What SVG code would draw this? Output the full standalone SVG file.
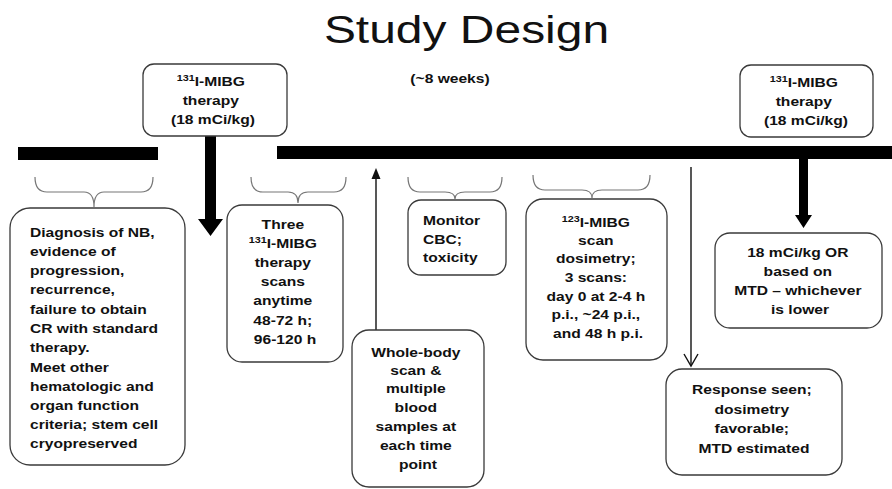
<svg xmlns="http://www.w3.org/2000/svg" width="892" height="489" viewBox="0 0 892 489">
<style>
.t{font-family:"Liberation Sans",Arial,Helvetica,sans-serif;font-size:13px;font-weight:bold;fill:#111}
.c{text-anchor:middle}
.box{fill:#fff;stroke:#3a3a3a;stroke-width:1.3}
.brace{fill:none;stroke:#777;stroke-width:1.2}
.thin{stroke:#111;stroke-width:1.4;fill:none}
.sup{font-size:9px}
</style>
<rect width="892" height="489" fill="#fff"/>
<text class="t" style="font-weight:normal;font-size:39px" transform="matrix(1.23 0 0 1 466.5 0)" x="0" y="43" text-anchor="middle">Study Design</text>
<text class="t c" transform="matrix(1.2 0 0 1 450 0)" x="0" y="83">(~8 weeks)</text>

<g id="timeline">
<rect x="18" y="147" width="140" height="13" fill="#000"/>
<rect x="277" y="146" width="615" height="13" fill="#000"/>
</g>

<g id="braces">
<path class="brace" d="M35,177 Q35,192 47,192 L84,192 Q94,192 94,207 Q94,192 104,192 L141,192 Q153,192 153,177"/>
<path class="brace" d="M251,177 Q251,192 263,192 L288,192 Q298,192 298,203 Q298,192 308,192 L334,192 Q346,192 346,177"/>
<path class="brace" d="M408,177 Q408,192 420,192 L445,192 Q455,192 455,199 Q455,192 465,192 L490,192 Q502,192 502,177"/>
<path class="brace" d="M533,175 Q533,190 545,190 L582,190 Q592,190 592,198 Q592,190 602,190 L638,190 Q650,190 650,175"/>
</g>

<g id="connectors">
<path d="M205,136 H216 V219 H223 L210.5,236 L198,219 H205 Z" fill="#000"/>
<path d="M799,159 H808 V215 H812 L803.5,228 L795,215 H799 Z" fill="#000"/>
<line class="thin" x1="376" y1="330" x2="376" y2="176"/>
<path d="M376,168 L380.5,179 L371.5,179 Z" fill="#111"/>
<line class="thin" x1="691" y1="167" x2="691" y2="365"/>
<polyline class="thin" points="684,354 691,366 698,354"/>
</g>

<g id="therapy1">
<rect class="box" x="143" y="64" width="144" height="72" rx="11"/>
<text class="t c" transform="matrix(1.2 0 0 1 213 0)">
<tspan x="0" y="86"><tspan class="sup" dy="-5">131</tspan><tspan dy="5">I-MIBG</tspan></tspan>
<tspan x="0" y="105">therapy</tspan>
<tspan x="0" y="124">(18 mCi/kg)</tspan>
</text>
</g>

<g id="therapy2">
<rect class="box" x="740" y="65" width="133" height="72" rx="11"/>
<text class="t c" transform="matrix(1.2 0 0 1 806 0)">
<tspan x="0" y="87"><tspan class="sup" dy="-5">131</tspan><tspan dy="5">I-MIBG</tspan></tspan>
<tspan x="0" y="106">therapy</tspan>
<tspan x="0" y="125">(18 mCi/kg)</tspan>
</text>
</g>

<g id="diagnosis">
<rect class="box" x="10" y="208" width="175" height="257" rx="20"/>
<text class="t" transform="matrix(1.2 0 0 1 30 0)">
<tspan x="0" y="237">Diagnosis of NB,</tspan>
<tspan x="0" y="256">evidence of</tspan>
<tspan x="0" y="275">progression,</tspan>
<tspan x="0" y="294">recurrence,</tspan>
<tspan x="0" y="314">failure to obtain</tspan>
<tspan x="0" y="333">CR with standard</tspan>
<tspan x="0" y="352">therapy.</tspan>
<tspan x="0" y="372">Meet other</tspan>
<tspan x="0" y="391">hematologic and</tspan>
<tspan x="0" y="410">organ function</tspan>
<tspan x="0" y="429">criteria; stem cell</tspan>
<tspan x="0" y="448">cryopreserved</tspan>
</text>
</g>

<g id="three-scans">
<rect class="box" x="227" y="205" width="116" height="157" rx="15"/>
<text class="t c" transform="matrix(1.2 0 0 1 285 0)">
<tspan x="0" y="229">Three</tspan>
<tspan x="0" y="248"><tspan class="sup" dy="-5">131</tspan><tspan dy="5">I-MIBG</tspan></tspan>
<tspan x="0" y="267">therapy</tspan>
<tspan x="0" y="286">scans</tspan>
<tspan x="0" y="305">anytime</tspan>
<tspan x="0" y="325">48-72 h;</tspan>
<tspan x="0" y="344">96-120 h</tspan>
</text>
</g>

<g id="monitor">
<rect class="box" x="408" y="200" width="98" height="75" rx="13"/>
<text class="t" transform="matrix(1.2 0 0 1 423 0)">
<tspan x="0" y="225">Monitor</tspan>
<tspan x="0" y="244">CBC;</tspan>
<tspan x="0" y="262">toxicity</tspan>
</text>
</g>

<g id="whole-body">
<rect class="box" x="352" y="330" width="132" height="157" rx="17"/>
<text class="t c" transform="matrix(1.2 0 0 1 418 0)">
<tspan x="0" y="357">Whole-body</tspan>
<tspan x="0" y="375">scan &amp;</tspan>
<tspan x="0" y="393">multiple</tspan>
<tspan x="0" y="412">blood</tspan>
<tspan x="0" y="431">samples at</tspan>
<tspan x="0" y="450">each time</tspan>
<tspan x="0" y="469">point</tspan>
</text>
</g>

<g id="dosimetry">
<rect class="box" x="526" y="199" width="141" height="161" rx="17"/>
<text class="t c" transform="matrix(1.2 0 0 1 598 0)">
<tspan x="0" y="227"><tspan class="sup" dy="-5">123</tspan><tspan dy="5">I-MIBG</tspan></tspan>
<tspan x="0" y="245">scan</tspan>
<tspan x="0" y="263">dosimetry;</tspan>
<tspan x="0" y="282">3 scans:</tspan>
<tspan x="0" y="301">day 0 at 2-4 h</tspan>
<tspan x="0" y="319">p.i., ~24 p.i.,</tspan>
<tspan x="0" y="338">and 48 h p.i.</tspan>
</text>
</g>

<g id="dose-choice">
<rect class="box" x="715" y="233" width="167" height="95" rx="15"/>
<text class="t c" transform="matrix(1.2 0 0 1 800 0)">
<tspan x="0" y="257">18 mCi/kg OR</tspan>
<tspan x="0" y="276">based on</tspan>
<tspan x="0" y="295">MTD – whichever</tspan>
<tspan x="0" y="314">is lower</tspan>
</text>
</g>

<g id="response">
<rect class="box" x="666" y="369" width="176" height="106" rx="16"/>
<text class="t c" transform="matrix(1.2 0 0 1 754 0)">
<tspan x="0" y="394">Response seen;</tspan>
<tspan x="0" y="414">dosimetry</tspan>
<tspan x="0" y="433">favorable;</tspan>
<tspan x="0" y="453">MTD estimated</tspan>
</text>
</g>
</svg>
